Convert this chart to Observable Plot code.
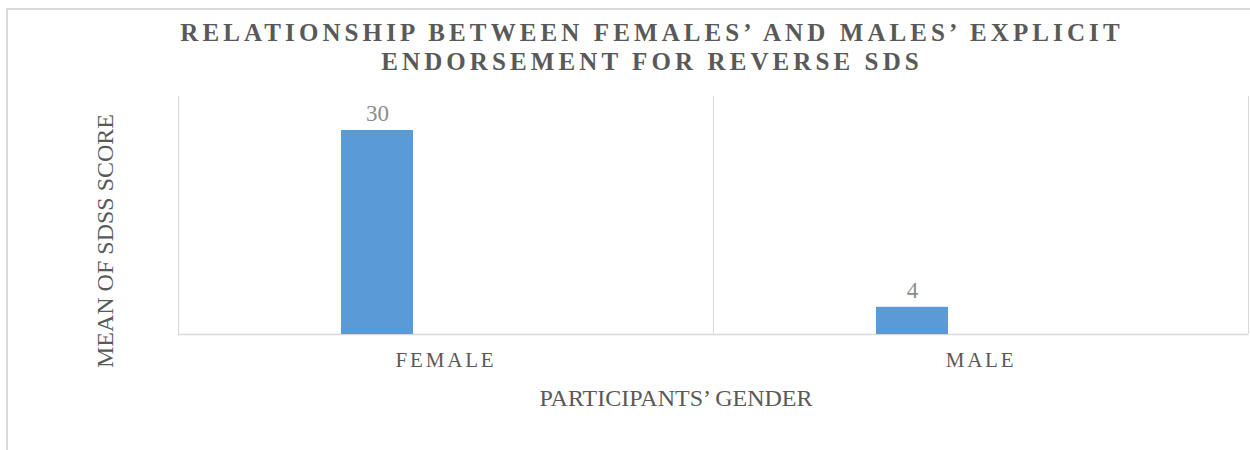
<!DOCTYPE html>
<html>
<head>
<meta charset="utf-8">
<script src="https://cdn.jsdelivr.net/npm/d3@7"></script>
<script src="https://cdn.jsdelivr.net/npm/@observablehq/plot@0.6"></script>
<style>
  html, body { margin: 0; padding: 0; background: #fff; overflow: hidden; }
  body { position: relative; width: 1250px; height: 450px; font-family: "Liberation Serif", "Times New Roman", Times, serif; }
  #frame { position: absolute; left: 6px; top: 8px; width: 1300px; height: 500px; border: 2px solid #d9d9d9; box-sizing: border-box; }
  #title { position: absolute; left: 0; top: 18px; width: 1304px; text-align: center; font-size: 25px; font-weight: bold; letter-spacing: 4.1px; line-height: 29px; color: #595959; }
  #ylabel { position: absolute; left: 105px; top: 241px; transform: translate(-50%, -50%) rotate(-90deg); white-space: nowrap; font-size: 24px; color: #595959; }
  #xlabel { position: absolute; left: 676px; top: 398px; transform: translate(-50%, -50%); white-space: nowrap; font-size: 24px; color: #595959; }
  #chart { position: absolute; left: 0; top: 0; }
  #chart g[aria-label="x-axis tick label"] { font-size: 21px !important; }
  #chart g[aria-label="x-axis tick label"] text { letter-spacing: 2.8px; }
</style>
</head>
<body>
<div id="frame"></div>
<div id="chart"></div>
<div id="title"></div>
<div id="ylabel"></div>
<div id="xlabel"></div>
<script>
const titleLines = ["RELATIONSHIP BETWEEN FEMALES’ AND MALES’ EXPLICIT", "ENDORSEMENT FOR REVERSE SDS"];
const yAxisTitle = "MEAN OF SDSS SCORE";
const xAxisTitle = "PARTICIPANTS’ GENDER";
const genders = ["FEMALE", "MALE"];
const meanScores = [30, 4];
const yDomain = [0, 35];

document.getElementById("title").innerHTML = titleLines.join("<br>");
document.getElementById("ylabel").textContent = yAxisTitle;
document.getElementById("xlabel").textContent = xAxisTitle;

const data = genders.map((g, i) => ({gender: g, score: meanScores[i]}));

const W = 1250, mL = 178, mR = 2;
const bw = (W - mL - mR) / genders.length;
const grid = "#d9d9d9";

const chart = Plot.plot({
  width: W,
  height: 450,
  marginLeft: mL,
  marginRight: mR,
  marginTop: 96,
  marginBottom: 116,
  x: {domain: genders, padding: 0, label: null},
  y: {domain: yDomain, axis: null},
  style: {fontFamily: "Liberation Serif, Times New Roman, serif", background: "transparent", overflow: "visible"},
  marks: [
    Plot.ruleX(genders, {x: d => d, y1: yDomain[0], y2: yDomain[1], dx: -bw / 2, stroke: grid}),
    Plot.ruleX([genders[genders.length - 1]], {x: d => d, y1: yDomain[0], y2: yDomain[1], dx: bw / 2, stroke: grid}),
    Plot.ruleY([0], {stroke: grid, strokeWidth: 1.5}),
    Plot.barY(data, {x: "gender", y: "score", fill: "#5b9bd5", insetLeft: 163, insetRight: 300}),
    Plot.text(data, {x: "gender", y: "score", text: d => String(d.score), dx: -68.5, dy: -17, fill: "#8c8c8c", fontSize: 23}),
    Plot.axisX({tickSize: 0, tickPadding: 18, fontSize: 21, fill: "#595959", label: null})
  ]
});
document.getElementById("chart").appendChild(chart);
</script>
</body>
</html>
